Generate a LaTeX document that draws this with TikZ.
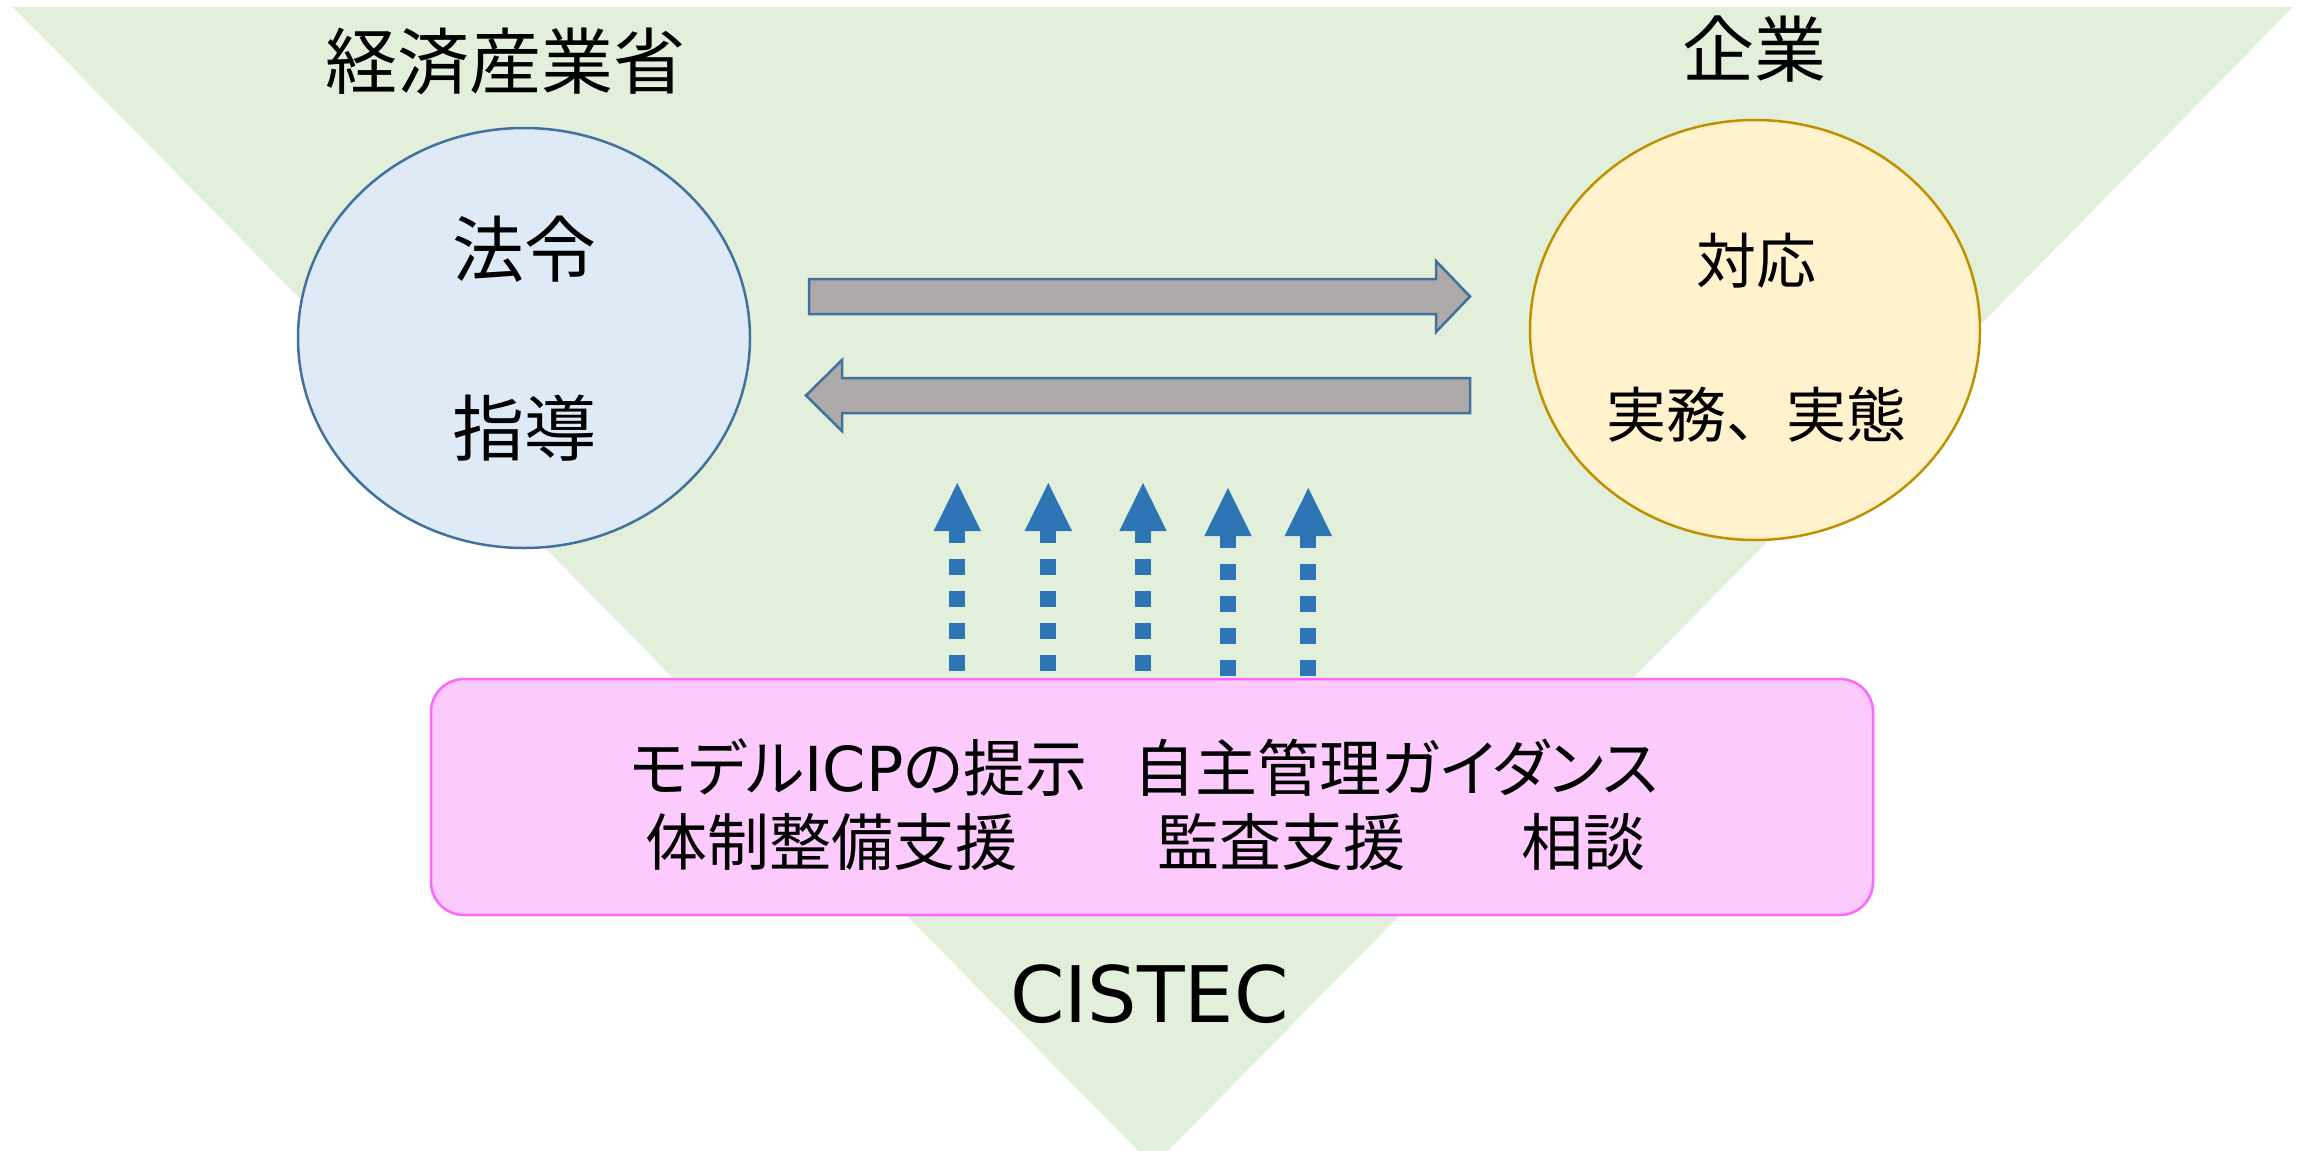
\documentclass[tikz,border=0pt]{standalone}
\usepackage{fontspec}
\usetikzlibrary{shapes.geometric}
\newfontfamily\jp{Noto Sans CJK JP}
\newfontfamily\jpp[RawFeature=+palt]{Noto Sans CJK JP}
\newfontfamily\lat{DejaVu Sans}
\definecolor{trigreen}{HTML}{E2EFDA}
\definecolor{lblue}{HTML}{DEEBF7}
\definecolor{bstroke}{HTML}{41719C}
\definecolor{lyellow}{HTML}{FFF2CC}
\definecolor{ystroke}{HTML}{BF9000}
\definecolor{agray}{HTML}{AEAAAA}
\definecolor{dblue}{HTML}{2E75B6}
\definecolor{pfill}{HTML}{FDCAFD}
\definecolor{pstroke}{HTML}{FF66FF}
\tikzset{
  ell/.style={ellipse, inner sep=0pt, outer sep=0pt, line width=2.5pt},
  garrow/.style={fill=agray, draw=bstroke, line width=2.5pt, line join=miter},
  dotline/.style={draw=dblue, line width=16pt, dash pattern=on 16pt off 16pt, line cap=butt},
  dhead/.style={fill=dblue},
  big/.style={inner sep=0pt, anchor=base, font=\jp\fontsize{72}{86}\selectfont},
  mid/.style={inner sep=0pt, anchor=base, font=\jp\fontsize{60}{72}\selectfont},
  boxtxt/.style={inner sep=0pt, anchor=base, font=\jpp\fontsize{62}{74}\selectfont},
}
\begin{document}
\begin{tikzpicture}[x=1pt,y=-1pt]
\useasboundingbox (0,0) rectangle (2303,1151);
\clip (0,0) rectangle (2303,1151);
% background triangle
\fill[trigreen] (13,7) -- (2293,7) -- (1153,1166) -- cycle;
% titles
\node[big] (tmeti) at (505.5,88) {経済産業省};
\node[big] (tcorp) at (1754.5,76) {企業};
% ellipses
\node[ell, fill=lblue, draw=bstroke, minimum width=452pt, minimum height=420pt] (meti) at (524,338) {};
\node[ell, fill=lyellow, draw=ystroke, minimum width=450pt, minimum height=420pt] (corp) at (1755,330) {};
\node[big] (hourei) at (524.5,276) {法令};
\node[big] (shidou) at (524,455) {指導};
\node[mid] (taiou) at (1756.5,283) {対応};
\node[mid] (jitsumu) at (1756.5,437) {実務、実態};
% gray block arrows
\draw[garrow] (809,279) -- (1436,279) -- (1436,261) -- (1470,296.5) -- (1436,332) -- (1436,314) -- (809,314) -- cycle;
\draw[garrow] (1470,378) -- (842,378) -- (842,360) -- (806,395.5) -- (842,431) -- (842,413) -- (1470,413) -- cycle;
% pink box
\node[draw=pstroke, fill=pfill, line width=2.5pt, rounded corners=33pt, minimum width=1442pt, minimum height=236pt, inner sep=0pt] (box) at (1152,797) {};
\node[boxtxt] (l1a) at (858.5,791) {モデル{\lat ICP}の提示};
\node[boxtxt] (l1b) at (1396,791) {自主管理ガイダンス};
\node[boxtxt] (l2a) at (831.5,865) {体制整備支援};
\node[boxtxt] (l2b) at (1281,865) {監査支援};
\node[boxtxt] (l2c) at (1583,865) {相談};
% dotted arrows
\foreach \i/\x/\b/\t in {1/957.3/671/483, 2/1048.3/671/483, 3/1143/671/483, 4/1228/676/488, 5/1308.3/676/488}{
  \coordinate (b\i) at (\x,\b);
  \coordinate (t\i) at (\x,\t);
  \coordinate (h\i) at (\x,\t+44);
  \draw[dotline] (b\i) -- (h\i);
  \fill[dhead] (t\i) -- ++(-23.7,48) -- ++(47.4,0) -- cycle;
}
% CISTEC
\node[inner sep=0pt, anchor=base, font=\lat\fontsize{78}{94}\selectfont] (cistec) at (1149.5,1022) {CISTEC};
\end{tikzpicture}
\end{document}
